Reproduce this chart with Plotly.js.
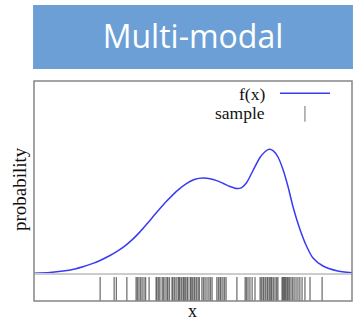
<!DOCTYPE html>
<html>
<head>
<meta charset="utf-8">
<script src="https://cdn.plot.ly/plotly-3.0.1.min.js"></script>
<style>html,body{margin:0;padding:0;background:#fff;}#chart{width:358px;height:323px;}</style>
</head>
<body>
<div id="chart"></div>
<script>
// density curve f(x)
const curveX = [0, 0.503, 0.912, 1.289, 1.541, 1.855, 2.075, 2.390, 2.610, 2.862, 3.082, 3.333, 3.553, 3.868, 4.182, 4.497, 4.780, 5.063, 5.314, 5.535, 5.745, 5.943, 6.164, 6.374, 6.531, 6.689, 6.887, 7.107, 7.264, 7.399, 7.525, 7.673, 7.830, 7.987, 8.145, 8.365, 8.575, 8.774, 9.088, 9.519, 10];
const curveY = [0.0017, 0.0036, 0.0070, 0.0122, 0.0172, 0.0254, 0.0324, 0.0444, 0.0542, 0.0676, 0.0819, 0.1011, 0.1204, 0.1487, 0.1756, 0.1996, 0.2165, 0.2273, 0.2303, 0.2287, 0.2242, 0.2177, 0.2100, 0.2052, 0.2074, 0.2196, 0.2484, 0.2796, 0.2935, 0.2993, 0.2957, 0.2808, 0.2508, 0.2100, 0.1615, 0.1068, 0.0660, 0.0384, 0.0192, 0.0079, 0.0031];
// sample (rug) positions
const samples = [2.08, 2.52, 2.59, 2.92, 3.21, 3.25, 3.30, 3.35, 3.40, 3.46, 3.51, 3.62, 3.84, 3.87, 3.92, 3.96, 4.03, 4.07, 4.12, 4.18, 4.21, 4.26, 4.34, 4.37, 4.42, 4.47, 4.53, 4.56, 4.59, 4.64, 4.69, 4.72, 4.76, 4.81, 4.84, 4.91, 4.94, 4.98, 5.03, 5.06, 5.11, 5.16, 5.20, 5.28, 5.33, 5.38, 5.44, 5.50, 5.55, 5.60, 5.75, 5.80, 5.85, 5.88, 5.94, 5.99, 6.04, 6.38, 6.64, 6.68, 6.73, 6.79, 6.86, 6.95, 7.11, 7.15, 7.20, 7.23, 7.28, 7.33, 7.36, 7.41, 7.45, 7.48, 7.53, 7.58, 7.63, 7.67, 7.80, 7.83, 7.86, 7.89, 7.92, 7.96, 7.99, 8.03, 8.08, 8.13, 8.18, 8.24, 8.30, 8.36, 8.43, 8.52, 8.68, 9.06];
const titleText = "Multi-modal";
const legendLabels = ["f(x)", "sample"];
const yLabel = "probability";
const xLabel = "x";

const traces = [
  {
    x: curveX, y: curveY, xaxis: 'x', yaxis: 'y', type: 'scatter', mode: 'lines',
    line: {color: '#3a3af5', width: 1.5, shape: 'spline', smoothing: 0.7},
    hoverinfo: 'skip', showlegend: false
  },
  {
    x: samples, y: samples.map(() => 0.444), xaxis: 'x2', yaxis: 'y2', type: 'scatter', mode: 'markers',
    marker: {symbol: 'line-ns-open', size: 17, color: 'rgba(0,0,0,0.55)', line: {color: 'rgba(0,0,0,0.55)', width: 1.3}},
    hoverinfo: 'skip', showlegend: false
  }
];

const serif = 'Liberation Serif, Times New Roman, serif';
const axisOff = {showgrid: false, zeroline: false, showticklabels: false, showline: false, ticks: ''};

const layout = {
  width: 358, height: 323,
  margin: {l: 34, r: 6, t: 81, b: 22, pad: 0},
  paper_bgcolor: '#ffffff', plot_bgcolor: '#ffffff',
  showlegend: false,
  title: {
    text: titleText, x: 0.539, xanchor: 'center', y: 0.887, yanchor: 'middle',
    font: {family: 'Open Sans, Noto Sans, sans-serif', size: 32, color: '#ffffff'}
  },
  xaxis: Object.assign({domain: [0, 1], range: [0, 10], anchor: 'y'}, axisOff),
  yaxis: Object.assign({domain: [0.1227, 1], range: [0, 0.4632], anchor: 'x'}, axisOff),
  xaxis2: Object.assign({domain: [0, 1], range: [0, 10], anchor: 'y2'}, axisOff),
  yaxis2: Object.assign({domain: [0, 0.1227], range: [0, 1], anchor: 'x2'}, axisOff),
  shapes: [
    {type: 'rect', xref: 'paper', yref: 'paper', x0: -0.003, x1: 1.003, y0: 1.0545, y1: 1.345,
     fillcolor: '#6b9fd6', line: {width: 0}, layer: 'below'},
    {type: 'line', xref: 'paper', yref: 'paper', x0: 0, x1: 1, y0: 0.1227, y1: 0.1227,
     line: {color: '#cccccc', width: 2}},
    {type: 'rect', xref: 'paper', yref: 'paper', x0: 0, x1: 1, y0: 0, y1: 1,
     line: {color: '#858585', width: 1.5}},
    {type: 'line', xref: 'paper', yref: 'paper', x0: 0.7736, x1: 0.9308, y0: 0.944, y1: 0.944,
     line: {color: '#3a3af5', width: 1.5}},
    {type: 'line', xref: 'paper', yref: 'paper', x0: 0.852, x1: 0.852, y0: 0.815, y1: 0.886,
     line: {color: '#888888', width: 1.2}}
  ],
  annotations: [
    {text: legendLabels[0], xref: 'paper', yref: 'paper', x: 0.7327, y: 0.941, xanchor: 'right', yanchor: 'middle',
     showarrow: false, font: {family: serif, size: 17.5, color: '#111111'}},
    {text: legendLabels[1], xref: 'paper', yref: 'paper', x: 0.7327, y: 0.855, xanchor: 'right', yanchor: 'middle',
     showarrow: false, font: {family: serif, size: 17.5, color: '#111111'}},
    {text: yLabel, xref: 'paper', yref: 'paper', x: -0.047, y: 0.509, xanchor: 'center', yanchor: 'middle',
     textangle: -90, showarrow: false, font: {family: serif, size: 19, color: '#111111'}},
    {text: xLabel, xref: 'paper', yref: 'paper', x: 0.497, y: -0.045, xanchor: 'center', yanchor: 'middle',
     showarrow: false, font: {family: serif, size: 18, color: '#111111'}}
  ]
};

Plotly.newPlot('chart', traces, layout, {displayModeBar: false, staticPlot: true});
</script>
</body>
</html>
